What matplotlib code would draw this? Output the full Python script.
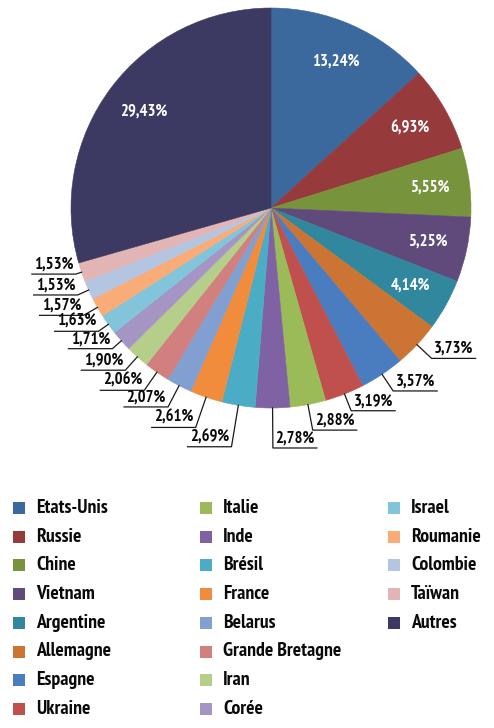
import numpy as np
import matplotlib
matplotlib.use("Agg")
import matplotlib.pyplot as plt
from matplotlib import font_manager
from matplotlib.patches import Rectangle

countries = ["Etats-Unis", "Russie", "Chine", "Vietnam", "Argentine", "Allemagne",
             "Espagne", "Ukraine", "Italie", "Inde", "Brésil", "France", "Belarus",
             "Grande Bretagne", "Iran", "Corée", "Israel", "Roumanie", "Colombie",
             "Taïwan", "Autres"]
shares = [13.24, 6.93, 5.55, 5.25, 4.14, 3.73, 3.57, 3.19, 2.88, 2.78, 2.69, 2.61,
          2.07, 2.06, 1.90, 1.71, 1.63, 1.57, 1.53, 1.53, 29.43]
colors = ["#3b689d", "#973a3c", "#77933c", "#604a7b", "#31879e", "#cc7433",
          "#4a7dbf", "#c0504d", "#9bbb59", "#7f62a3", "#4bacc6", "#f08c3c",
          "#829fd1", "#d27f7f", "#b5cf8a", "#a595c4", "#82c4da", "#f9ac78",
          "#b4c5e2", "#e2b4b4", "#3c3a62"]
inside = [True, True, True, True, True] + [False] * 15 + [True]
# elbow radius of the leader line, as fraction of the pie radius
elbow = [0, 0, 0, 0, 0, 1.10, 1.10, 1.09, 1.13, 1.20, 1.21, 1.16, 1.12, 1.11,
         1.09, 1.06, 1.06, 1.08, 1.06, 1.03, 0]

# pick a condensed bold font if there is one
available = {f.name for f in font_manager.fontManager.ttflist}
family = ["DejaVu Sans"]
for cand in ["PT Sans Narrow", "Fira Sans Condensed", "Roboto Condensed",
             "Open Sans Condensed", "Archivo Narrow", "Encode Sans Condensed",
             "IBM Plex Sans Condensed", "Asap Condensed", "Barlow Semi Condensed",
             "Liberation Sans Narrow"]:
    if cand in available:
        family = [cand, "DejaVu Sans"]
        break
plt.rcParams["font.family"] = family


def fmt(v):
    return f"{v:.2f}".replace(".", ",") + "%"


W, H = 494, 728
fig = plt.figure(figsize=(W / 100, H / 100), dpi=100)
ax = fig.add_axes([0, 0, 1, 1])

cx, cy, R = 271, H - 208, 200
wedges, _ = ax.pie(shares, colors=colors, startangle=90, counterclock=False,
                   center=(cx, cy), radius=R, wedgeprops={"linewidth": 0.4})
for w, c in zip(wedges, colors):
    w.set_edgecolor(c)
ax.set_xlim(0, W)
ax.set_ylim(0, H)
ax.set_aspect("equal")
ax.set_axis_off()

for w, v, ins, e in zip(wedges, shares, inside, elbow):
    mid = np.deg2rad((w.theta1 + w.theta2) / 2)
    ux, uy = np.cos(mid), np.sin(mid)
    if ins:
        ax.text(cx + 0.8 * R * ux, cy + 0.8 * R * uy, fmt(v), color="white",
                fontsize=12, fontweight="bold", ha="center", va="center")
        continue
    x0, y0 = cx + R * ux, cy + R * uy
    x1, y1 = cx + e * R * ux, cy + e * R * uy
    side = 1 if ux > 0 else -1
    x2 = x1 + side * 44
    ax.plot([x0, x1, x2], [y0, y1, y1], color="#1a1a1a", lw=0.9,
            solid_joinstyle="miter")
    ax.text((x1 + x2) / 2, y1 + 1.5, fmt(v), color="#0a0a0a", fontsize=12,
            fontweight="bold", ha="center", va="bottom")

# legend: three columns, column-first
col_x = [13, 200, 388]
for i, (name, c) in enumerate(zip(countries, colors)):
    col, row = divmod(i, 8)
    y = H - (508 + row * 28.7)
    ax.add_patch(Rectangle((col_x[col], y - 6), 12, 12, color=c, lw=0))
    ax.text(col_x[col] + 23, y, name, fontsize=14.2, fontweight="bold",
            color="#0a0a0a", ha="left", va="center")

fig.savefig("out.png", dpi=100)
